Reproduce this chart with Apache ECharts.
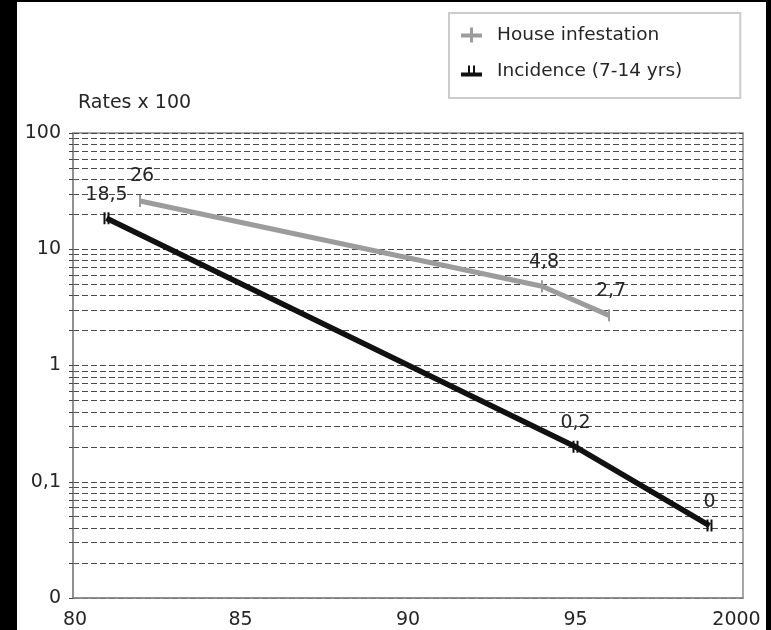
<!DOCTYPE html>
<html><head><meta charset="utf-8">
<script src="https://cdn.jsdelivr.net/npm/echarts@6/dist/echarts.min.js"></script>
<style>
html,body{margin:0;padding:0;background:#000;width:771px;height:630px;overflow:hidden}
#c{position:absolute;left:17px;top:2px;width:749px;height:628px;background:#fff}
</style></head>
<body><div id="c"></div>
<script>
const houseYears = [82, 94, 96];
const houseValues = [26, 4.8, 2.7];
const houseLabels = ['26', '4,8', '2,7'];
const incYears = [81, 95, 99];
const incValues = [18.5, 0.2, 0.042];
const incLabels = ['18,5', '0,2', '0'];
const xTickValues = [80, 85, 90, 95, 100];
const xTickLabels = ['80', '85', '90', '95', '2000'];
const yTickValues = [0.01, 0.1, 1, 10, 100];
const yTickLabels = ['0', '0,1', '1', '10', '100'];
const seriesNames = ['House infestation', 'Incidence (7-14 yrs)'];

const FONT = 'DejaVu Sans';
const TXT = '#262626';
const houseIcon = 'path://M0,6 L21,6 L21,10 L0,10 Z M9,0 L12,0 L12,15 L9,15 Z';
const incIcon = 'path://M0,7 L21,7 L21,11 L0,11 Z M7,0 L9,0 L9,7 L7,7 Z M12,0 L14,0 L14,7 L12,7 Z';

function nearestLabel(v, vals, labels) {
  let best = -1, bd = Infinity;
  vals.forEach((t, i) => {
    const d = Math.abs(Math.log10(t) - Math.log10(v));
    if (d < bd) { bd = d; best = i; }
  });
  return bd < 1e-6 ? labels[best] : '';
}

const chart = echarts.init(document.getElementById('c'), null, {renderer: 'canvas'});
chart.setOption({
  animation: false,
  backgroundColor: '#fff',
  textStyle: {fontFamily: FONT},
  title: {
    text: 'Rates x 100', left: 61, top: 92, padding: 0,
    textStyle: {fontFamily: FONT, fontSize: 19, fontWeight: 'normal', color: TXT}
  },
  legend: {
    orient: 'vertical', left: 432, top: 11,
    padding: [11, 58, 16, 12], itemGap: 14,
    itemWidth: 21, itemHeight: 15,
    borderColor: '#ccc', borderWidth: 2, borderRadius: 0,
    textStyle: {fontFamily: FONT, fontSize: 18.5, color: TXT, padding: [0, 0, 0, 10], lineHeight: 22},
    data: [
      {name: seriesNames[0], icon: houseIcon, itemStyle: {color: '#9c9c9c'}},
      {name: seriesNames[1], icon: incIcon, itemStyle: {color: '#111'}}
    ]
  },
  grid: {
    left: 56, right: 23, top: 131, bottom: 32,
    show: true, borderColor: '#8a8a8a', borderWidth: 1.5, backgroundColor: '#fff'
  },
  xAxis: {
    type: 'value', min: 80, max: 100, interval: 5,
    axisLine: {show: true, lineStyle: {color: '#8a8a8a', width: 1.5}},
    axisTick: {show: false},
    splitLine: {show: false},
    axisLabel: {
      margin: 13, fontFamily: FONT, fontSize: 19, color: TXT,
      formatter: function (v) {
        const i = xTickValues.indexOf(v);
        const s = i >= 0 ? xTickLabels[i] : '';
        if (v === 100) return '{e|' + s + '}';
        if (v === 80) return '{s|' + s + '}';
        return s;
      },
      rich: {
        e: {fontFamily: FONT, fontSize: 19, color: TXT, padding: [0, 13, 0, 0]},
        s: {fontFamily: FONT, fontSize: 19, color: TXT, padding: [0, 0, 0, 4]}
      }
    }
  },
  yAxis: {
    type: 'log', logBase: 10, min: 0.01, max: 100,
    axisLine: {show: true, lineStyle: {color: '#8a8a8a', width: 1.5}},
    axisTick: {show: true, inside: false, length: 4, lineStyle: {color: '#444'}},
    minorTick: {show: true, splitNumber: 9, length: 4, lineStyle: {color: '#444'}},
    splitLine: {show: true, lineStyle: {color: '#4a4a4a', width: 1, type: [6, 3]}},
    minorSplitLine: {show: true, lineStyle: {color: '#4a4a4a', width: 1, type: [6, 3]}},
    axisLabel: {
      margin: 12, fontFamily: FONT, fontSize: 19, color: TXT,
      formatter: function (v) { return nearestLabel(v, yTickValues, yTickLabels); }
    }
  },
  series: [
    {
      name: seriesNames[0], type: 'line', z: 3,
      data: houseYears.map((x, i) => [x, houseValues[i]]),
      lineStyle: {color: '#9c9c9c', width: 5},
      itemStyle: {color: '#9c9c9c'},
      symbol: 'path://M0,0 L2,0 L2,12 L0,12 Z', symbolSize: [2, 12],
      label: {
        show: true, position: 'top', distance: 9, offset: [2, 0],
        fontFamily: FONT, fontSize: 19, color: TXT,
        formatter: p => houseLabels[p.dataIndex]
      }
    },
    {
      name: seriesNames[1], type: 'line', z: 4,
      data: incYears.map((x, i) => [x, incValues[i]]),
      lineStyle: {color: '#111', width: 5.5},
      itemStyle: {color: '#111'},
      symbol: 'path://M0,0 L2,0 L2,8 L0,8 Z M4,0 L6,0 L6,8 L4,8 Z', symbolSize: [6, 12],
      label: {
        show: true, position: 'top', distance: 8,
        fontFamily: FONT, fontSize: 19, color: TXT,
        formatter: p => incLabels[p.dataIndex]
      }
    }
  ]
});
</script>
</body></html>
